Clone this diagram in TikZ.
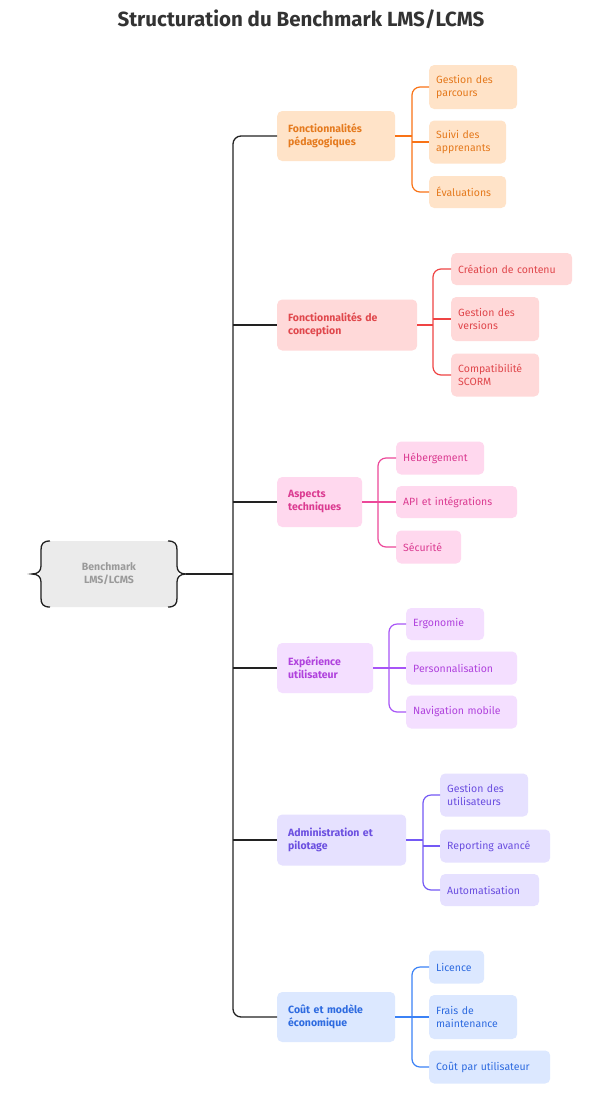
\documentclass[tikz,border=0pt]{standalone}
\usepackage{fontspec}
\setmainfont{Fira Sans}
\definecolor{oF}{HTML}{FFE3C8}\definecolor{oT}{HTML}{E57A1E}\definecolor{oL}{HTML}{F97316}
\definecolor{rF}{HTML}{FFD9D9}\definecolor{rT}{HTML}{E0474C}\definecolor{rL}{HTML}{EF4444}
\definecolor{pF}{HTML}{FFD8EE}\definecolor{pT}{HTML}{DB3B91}\definecolor{pL}{HTML}{EC4899}
\definecolor{vF}{HTML}{F4DFFF}\definecolor{vT}{HTML}{B042DD}\definecolor{vL}{HTML}{A855F7}
\definecolor{iF}{HTML}{E6E1FF}\definecolor{iT}{HTML}{6B4FE0}\definecolor{iL}{HTML}{7459F5}
\definecolor{bF}{HTML}{DCE8FF}\definecolor{bT}{HTML}{2E6BE0}\definecolor{bL}{HTML}{3B82F6}
\definecolor{gF}{HTML}{EBEBEB}\definecolor{gT}{HTML}{9A9A9A}\definecolor{tk}{HTML}{222222}
\definecolor{ttl}{HTML}{333333}
\tikzset{
  box/.style={anchor=west, rounded corners=5pt, inner xsep=7pt, inner ysep=0pt, align=left,
    font=\fontsize{10.5}{13}\selectfont},
  cat/.style={box, inner xsep=11pt, font=\fontsize{10.5}{13}\selectfont\bfseries},
  ln/.style={line width=1.2pt},
  tline/.style={line width=1.3pt, draw=tk},
}
\begin{document}
\begin{tikzpicture}[x=1pt,y=-1pt]
\fill[white] (0,0) rectangle (590,1104);
\useasboundingbox (0,0) rectangle (590,1104);

\node[font=\fontsize{20.5}{24}\selectfont\bfseries, text=ttl] (title) at (301,19) {Structuration du Benchmark LMS/LCMS};

% root
\node[fill=gF, rounded corners=8pt, minimum width=138pt, minimum height=66pt, inner sep=0pt,
  font=\fontsize{10.5}{13}\selectfont\bfseries, text=gT, align=center] (root) at (109,574) {Benchmark\\LMS/LCMS};
\draw[tline] (50,541) .. controls (43,541) and (41,544) .. (41,550) -- (41,566)
  .. controls (41,571) and (38,574) .. (32,574) .. controls (38,574) and (41,577) .. (41,582)
  -- (41,598) .. controls (41,604) and (43,607) .. (50,607);
\draw[tline] (168,541) .. controls (175,541) and (177,544) .. (177,550) -- (177,566)
  .. controls (177,571) and (180,574) .. (186,574) .. controls (180,574) and (177,577) .. (177,582)
  -- (177,598) .. controls (177,604) and (175,607) .. (168,607);
\coordinate (rootR) at (186,574);
\coordinate (T) at (233,574);

% categories
\node[cat, fill=oF, text=oT, minimum width=118pt, text width=96pt, minimum height=50pt] (c1) at (277,136) {Fonctionnalités\\pédagogiques};
\node[cat, fill=rF, text=rT, minimum width=140pt, text width=118pt, minimum height=51pt] (c2) at (277,325) {Fonctionnalités de\\conception};
\node[cat, fill=pF, text=pT, minimum width=85pt, text width=63pt, minimum height=50pt] (c3) at (277,502) {Aspects\\techniques};
\node[cat, fill=vF, text=vT, minimum width=96pt, text width=74pt, minimum height=50pt] (c4) at (277,668) {Expérience\\utilisateur};
\node[cat, fill=iF, text=iT, minimum width=129pt, text width=107pt, minimum height=51pt] (c5) at (277,840) {Administration et\\pilotage};
\node[cat, fill=bF, text=bT, minimum width=118pt, text width=96pt, minimum height=50pt] (c6) at (277,1017) {Coût et modèle\\économique};

% children 1
\node[box, fill=oF, text=oT, minimum width=88pt, text width=74pt, minimum height=44pt] (c1a) at (429,87) {Gestion des\\parcours};
\node[box, fill=oF, text=oT, minimum width=77pt, text width=63pt, minimum height=43pt] (c1b) at (429,142) {Suivi des\\apprenants};
\node[box, fill=oF, text=oT, minimum width=77pt, text width=63pt, minimum height=32pt] (c1c) at (429,192) {Évaluations};
% children 2
\node[box, fill=rF, text=rT, minimum width=121pt, text width=107pt, minimum height=32pt] (c2a) at (451,269) {Création de contenu};
\node[box, fill=rF, text=rT, minimum width=88pt, text width=74pt, minimum height=44pt] (c2b) at (451,319) {Gestion des\\versions};
\node[box, fill=rF, text=rT, minimum width=88pt, text width=74pt, minimum height=43pt] (c2c) at (451,375) {Compatibilité\\SCORM};
% children 3
\node[box, fill=pF, text=pT, minimum width=88pt, text width=74pt, minimum height=33pt] (c3a) at (396,458) {Hébergement};
\node[box, fill=pF, text=pT, minimum width=121pt, text width=107pt, minimum height=32pt] (c3b) at (396,502) {API et intégrations};
\node[box, fill=pF, text=pT, minimum width=65pt, text width=51pt, minimum height=33pt] (c3c) at (396,547) {Sécurité};
% children 4
\node[box, fill=vF, text=vT, minimum width=78pt, text width=64pt, minimum height=32pt] (c4a) at (406,624) {Ergonomie};
\node[box, fill=vF, text=vT, minimum width=111pt, text width=97pt, minimum height=33pt] (c4b) at (406,668) {Personnalisation};
\node[box, fill=vF, text=vT, minimum width=111pt, text width=97pt, minimum height=33pt] (c4c) at (406,712) {Navigation mobile};
% children 5
\node[box, fill=iF, text=iT, minimum width=88pt, text width=74pt, minimum height=43pt] (c5a) at (440,795) {Gestion des\\utilisateurs};
\node[box, fill=iF, text=iT, minimum width=110pt, text width=96pt, minimum height=33pt] (c5b) at (440,846) {Reporting avancé};
\node[box, fill=iF, text=iT, minimum width=99pt, text width=85pt, minimum height=32pt] (c5c) at (440,890) {Automatisation};
% children 6
\node[box, fill=bF, text=bT, minimum width=55pt, text width=41pt, minimum height=33pt] (c6a) at (429,967) {Licence};
\node[box, fill=bF, text=bT, minimum width=88pt, text width=74pt, minimum height=44pt] (c6b) at (429,1017) {Frais de\\maintenance};
\node[box, fill=bF, text=bT, minimum width=121pt, text width=107pt, minimum height=33pt] (c6c) at (429,1067) {Coût par utilisateur};

% main trunk
\draw[tline] (rootR) -- (T);
\draw[tline, rounded corners=8pt] (c1.west) -| (T) |- (c6.west);
\foreach \c in {c2,c3,c4,c5} \draw[tline] (T |- \c.west) -- (\c.west);

% group connectors
\coordinate (j1) at (412,136);
\coordinate (j2) at (433,325);
\coordinate (j3) at (378,502);
\coordinate (j4) at (389,668);
\coordinate (j5) at (423,840);
\coordinate (j6) at (412,1017);
\foreach \k/\col in {1/oL,2/rL,3/pL,4/vL,5/iL,6/bL}{
  \draw[ln, draw=\col, rounded corners=8pt] (c\k a.west) -| (j\k) |- (c\k c.west);
  \draw[ln, draw=\col] (c\k.east) -- (j\k);
  \draw[ln, draw=\col] (j\k |- c\k b.west) -- (c\k b.west);
}
\end{tikzpicture}
\end{document}
